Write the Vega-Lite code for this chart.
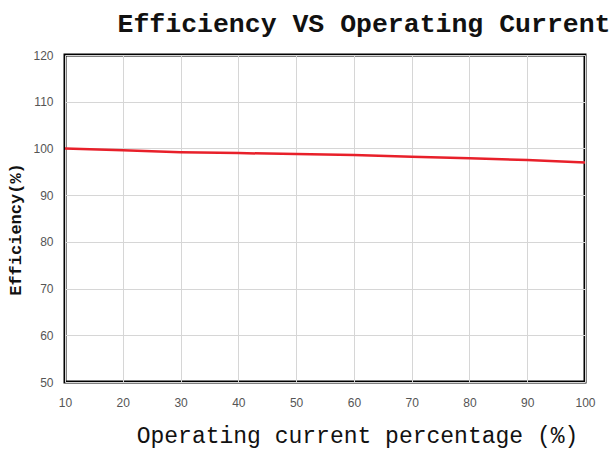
{
  "$schema": "https://vega.github.io/schema/vega-lite/v6.json",
  "autosize": {"type": "none"},
  "width": 520,
  "height": 327,
  "padding": {"left": 65, "top": 55, "right": 29, "bottom": 72},
  "background": "white",
  "title": {
    "text": "Efficiency VS Operating Current",
    "font": "Liberation Mono",
    "fontSize": 26.5,
    "fontWeight": "bold",
    "color": "#111111",
    "anchor": "middle",
    "dx": 39,
    "offset": 12
  },
  "data": {
    "values": [
      {"x": 10, "y": 100.0},
      {"x": 20, "y": 99.6},
      {"x": 30, "y": 99.2},
      {"x": 40, "y": 99.0},
      {"x": 50, "y": 98.8},
      {"x": 60, "y": 98.6},
      {"x": 70, "y": 98.2},
      {"x": 80, "y": 97.9},
      {"x": 90, "y": 97.5},
      {"x": 100, "y": 97.0}
    ]
  },
  "config": {
    "view": {"stroke": "black", "strokeWidth": 3},
    "axis": {
      "domain": false,
      "ticks": false,
      "gridColor": "#d6d6d6",
      "gridWidth": 1,
      "labelFont": "Liberation Sans",
      "labelFontSize": 12,
      "labelColor": "#555555",
      "labelFlush": false
    }
  },
  "mark": {"type": "line", "color": "#e8202a", "strokeWidth": 2.5},
  "encoding": {
    "x": {
      "field": "x",
      "type": "quantitative",
      "scale": {"domain": [10, 100], "nice": false, "zero": false},
      "axis": {
        "values": [10, 20, 30, 40, 50, 60, 70, 80, 90, 100],
        "labelPadding": 15,
        "title": "Operating current percentage (%)",
        "titleFont": "Liberation Mono",
        "titleFontSize": 23,
        "titleFontWeight": "normal",
        "titleColor": "#111111",
        "titleX": 292,
        "titleY": 42
      }
    },
    "y": {
      "field": "y",
      "type": "quantitative",
      "scale": {"domain": [50, 120], "nice": false, "zero": false},
      "axis": {
        "values": [50, 60, 70, 80, 90, 100, 110, 120],
        "labelPadding": 12,
        "title": "Efficiency(%)",
        "titleFont": "Liberation Mono",
        "titleFontSize": 17,
        "titleFontWeight": "bold",
        "titleColor": "#111111",
        "titleX": -41,
        "titleY": 174,
        "titleAngle": -90
      }
    }
  }
}
